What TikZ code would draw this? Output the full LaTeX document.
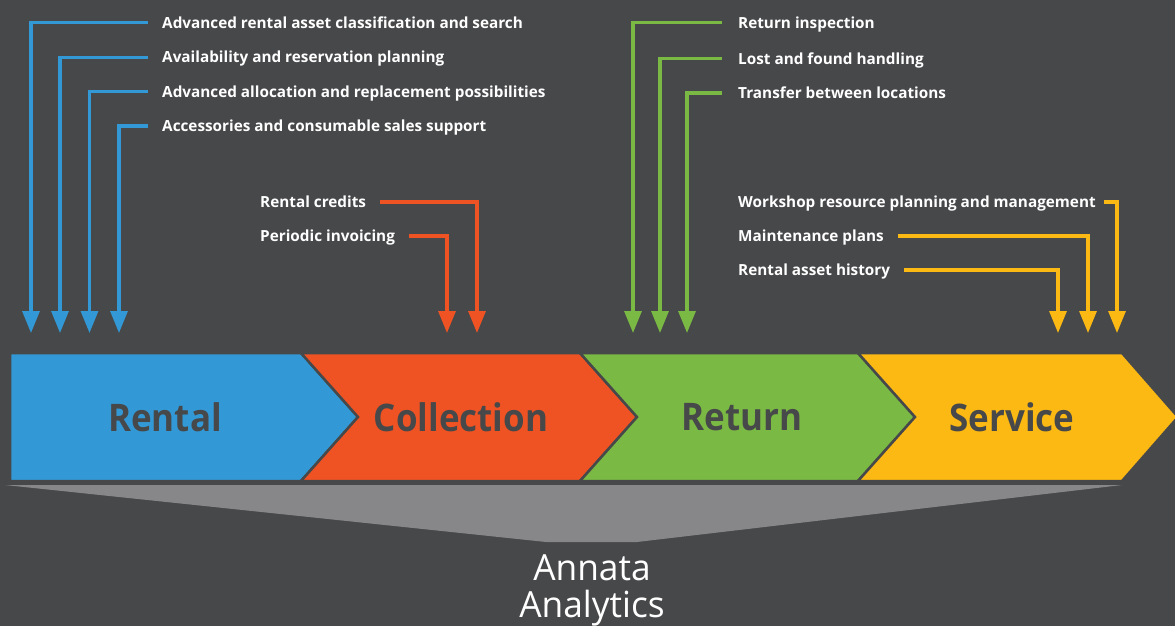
\documentclass[tikz,border=0pt]{standalone}
\usepackage{fontspec}
\setmainfont{Open Sans}
\newfontfamily\labfont{Open Sans}
\newfontfamily\bigfont[FakeStretch=0.92]{Open Sans}
\newfontfamily\anfont[FakeStretch=0.98]{Open Sans}
\usetikzlibrary{arrows.meta}
\definecolor{bg}{HTML}{47484A}
\definecolor{cblue}{HTML}{3399D6}
\definecolor{corange}{HTML}{F05323}
\definecolor{cgreen}{HTML}{7AB943}
\definecolor{cyellow}{HTML}{FDB913}
\definecolor{cgray}{HTML}{87878A}
\tikzset{
  lab/.style={anchor=west,inner sep=0pt,text=white,font=\labfont\bfseries\fontsize{15.3}{16}\selectfont,text height=11pt,text depth=0pt},
  conn/.style={line width=3.2pt,-{Triangle[width=17pt,length=22pt]}},
  chev/.style={draw=bg,line width=2.5pt,line join=miter},
  stage/.style={text=bg,font=\bigfont\bfseries\fontsize{38}{40}\selectfont,inner sep=0pt},
}
\begin{document}
\begin{tikzpicture}[x=1pt,y=-1pt]
\fill[bg] (0,0) rectangle (1175,626);
\useasboundingbox (0,0) rectangle (1175,626);
% analytics trapezoid
\fill[cgray] (5,485) -- (1122,485) -- (637,542) -- (546,542) -- cycle;
% chevrons
\path[chev,fill=cblue] (10,353) -- (301,353) -- (358,417) -- (301,481) -- (10,481) -- cycle;
\path[chev,fill=corange] (301,353) -- (580,353) -- (637,417) -- (580,481) -- (301,481) -- (358,417) -- cycle;
\path[chev,fill=cgreen] (580,353) -- (858,353) -- (915,417) -- (858,481) -- (580,481) -- (637,417) -- cycle;
\path[chev,fill=cyellow] (858,353) -- (1122,353) -- (1178,417) -- (1122,481) -- (858,481) -- (915,417) -- cycle;
\node[stage] (rental) at (165,417) {Rental};
\node[stage] (collection) at (461,417) {Collection};
\node[stage] (return) at (742,417) {Return};
\node[stage] (service) at (1012,417) {Service};
\node[text=white,font=\anfont\fontsize{36}{37}\selectfont,align=center,inner sep=0pt] (analytics) at (592,590) {Annata\\Analytics};
% arrow tips
\coordinate (b1) at (31,333); \coordinate (b2) at (60,333); \coordinate (b3) at (89.5,333); \coordinate (b4) at (119,333);
\coordinate (o1) at (477,333); \coordinate (o2) at (447,333);
\coordinate (g1) at (633,333); \coordinate (g2) at (660,333); \coordinate (g3) at (687,333);
\coordinate (y1) at (1117,333); \coordinate (y2) at (1088,333); \coordinate (y3) at (1058,333);
% blue labels
\node[lab] (bl1) at (162,22.7) {Advanced rental asset classification and search};
\node[lab] (bl2) at (162,57.3) {Availability and reservation planning};
\node[lab] (bl3) at (162,91.7) {Advanced allocation and replacement possibilities};
\node[lab] (bl4) at (162,126) {Accessories and consumable sales support};
\foreach \i in {1,...,4}{\draw[conn,cblue] ([xshift=-14pt]bl\i.west) -| (b\i);}
% orange labels
\node[lab] (ol1) at (260,202) {Rental credits};
\node[lab] (ol2) at (260,236) {Periodic invoicing};
\foreach \i in {1,2}{\draw[conn,corange] ([xshift=14pt]ol\i.east) -| (o\i);}
% green labels
\node[lab] (gl1) at (738,22.7) {Return inspection};
\node[lab] (gl2) at (738,58.5) {Lost and found handling};
\node[lab] (gl3) at (738,93) {Transfer between locations};
\foreach \i in {1,...,3}{\draw[conn,cgreen] ([xshift=-16pt]gl\i.west) -| (g\i);}
% yellow labels
\node[lab] (yl1) at (738,202) {Workshop resource planning and management};
\node[lab] (yl2) at (738,236) {Maintenance plans};
\node[lab] (yl3) at (738,270) {Rental asset history};
\draw[conn,cyellow] ([xshift=8pt]yl1.east) -| (y1);
\foreach \i in {2,3}{\draw[conn,cyellow] ([xshift=14pt]yl\i.east) -| (y\i);}
\end{tikzpicture}
\end{document}
